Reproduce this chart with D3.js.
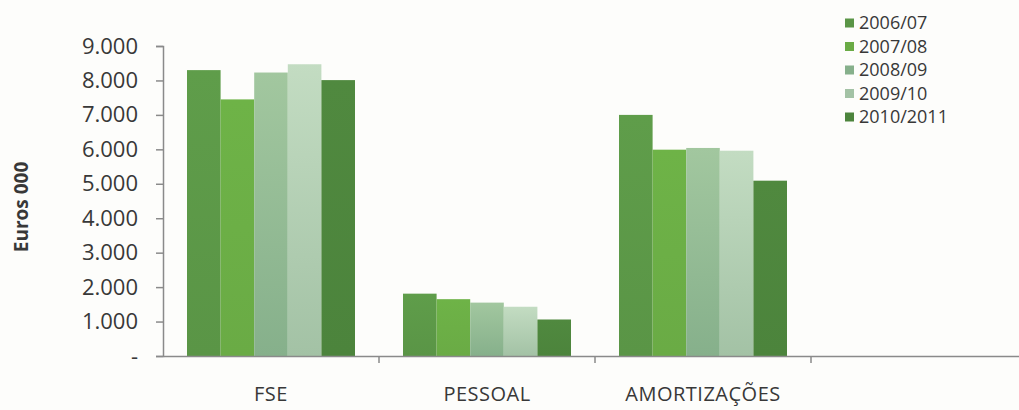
<!DOCTYPE html>
<html>
<head>
<meta charset="utf-8">
<script src="https://cdn.jsdelivr.net/npm/d3@7"></script>
<style>
  html, body { margin: 0; padding: 0; background: #fdfdfb; }
  svg { display: block; }
</style>
</head>
<body>
<svg id="chart" width="1019" height="410"></svg>
<script>
const categories = ["FSE", "PESSOAL", "AMORTIZAÇÕES", ""];
const seriesNames = ["2006/07", "2007/08", "2008/09", "2009/10", "2010/2011"];
const values2006 = [8300, 1810, 7000];
const values2007 = [7450, 1650, 5990];
const values2008 = [8230, 1550, 6040];
const values2009 = [8470, 1430, 5960];
const values2010 = [8010, 1060, 5090];
const seriesValues = [values2006, values2007, values2008, values2009, values2010];
const yTicks = [0, 1000, 2000, 3000, 4000, 5000, 6000, 7000, 8000, 9000];
const yTitle = "Euros 000";

const colorsTop = ["#5f9d4a", "#6eb347", "#a2c79f", "#c3dcc2", "#50893f"];
const colorsBottom = ["#5a9546", "#6aab45", "#86b08b", "#a3c2a5", "#4c843c"];

(function () {
const svg = d3.select("#chart");
const pLeft = 163, pRight = 1027, pTop = 46, pBottom = 356;

const x0 = d3.scaleBand().domain(categories).range([pLeft, pRight]).padding(0);
const innerPad = 24;
const x1 = d3.scaleBand().domain(seriesNames)
  .range([innerPad, x0.bandwidth() - innerPad]).padding(0);
const y = d3.scaleLinear().domain([0, 9000]).range([pBottom, pTop]);

const loc = d3.formatLocale({ decimal: ",", thousands: ".", grouping: [3], currency: ["", "€"] });
const fmt = loc.format(",.0f");

// gradients
const defs = svg.append("defs");
seriesNames.forEach((s, i) => {
  const g = defs.append("linearGradient").attr("id", "grad" + i)
    .attr("x1", 0).attr("y1", 0).attr("x2", 0).attr("y2", 1);
  g.append("stop").attr("offset", "0%").attr("stop-color", colorsTop[i]);
  g.append("stop").attr("offset", "100%").attr("stop-color", colorsBottom[i]);
});

// bars
const dataCats = categories.filter(c => c !== "");
seriesNames.forEach((s, i) => {
  svg.append("g").selectAll("rect")
    .data(dataCats.map((c, j) => ({ c, v: seriesValues[i][j] })))
    .join("rect")
    .attr("x", d => x0(d.c) + x1(s))
    .attr("y", d => y(d.v))
    .attr("width", x1.bandwidth())
    .attr("height", d => pBottom - y(d.v))
    .attr("fill", `url(#grad${i})`);
});

const axisColor = "#8a8a8a";
const textColor = "#383838";

// y axis
const yAxis = d3.axisLeft(y).tickValues(yTicks)
  .tickFormat(d => d === 0 ? "-" : fmt(d)).tickSize(7).tickPadding(18);
const gy = svg.append("g").attr("transform", `translate(${pLeft},0)`).call(yAxis);
gy.select(".domain").attr("stroke", axisColor).attr("stroke-width", 1.5);
gy.selectAll(".tick line").attr("stroke", axisColor).attr("stroke-width", 1.5);
gy.selectAll(".tick text")
  .attr("font-family", "'Open Sans', sans-serif").attr("font-size", 22)
  .attr("fill", textColor);

// x axis
const xAxis = d3.axisBottom(x0).tickSize(0).tickPadding(31);
const gx = svg.append("g").attr("transform", `translate(0,${pBottom})`).call(xAxis);
gx.select(".domain").attr("stroke", axisColor).attr("stroke-width", 1.5);
gx.selectAll(".tick text")
  .attr("font-family", "'Open Sans', sans-serif").attr("font-size", 20)
  .attr("fill", textColor).attr("letter-spacing", 0.5);
// category boundary ticks
gx.append("g").selectAll("line")
  .data(categories.slice(1))
  .join("line")
  .attr("x1", d => x0(d)).attr("x2", d => x0(d))
  .attr("y1", 0).attr("y2", 7)
  .attr("stroke", axisColor).attr("stroke-width", 1.5);

// y title
svg.append("text")
  .attr("transform", `translate(28,207) rotate(-90)`)
  .attr("text-anchor", "middle")
  .attr("font-family", "'Open Sans', sans-serif").attr("font-size", 19)
  .attr("font-weight", "bold").attr("fill", textColor)
  .text(yTitle);

// legend
const lg = svg.append("g").attr("transform", "translate(845,23)");
const rows = lg.selectAll("g").data(seriesNames).join("g")
  .attr("transform", (d, i) => `translate(0,${i * 23.5})`);
rows.append("rect").attr("x", 0).attr("y", -4.5).attr("width", 9).attr("height", 9)
  .attr("fill", (d, i) => colorsBottom[i]);
rows.append("text").attr("x", 14).attr("y", 0).attr("dy", "0.35em")
  .attr("font-family", "'Open Sans', sans-serif").attr("font-size", 18)
  .attr("fill", textColor).text(d => d);
})();
</script>
</body>
</html>
